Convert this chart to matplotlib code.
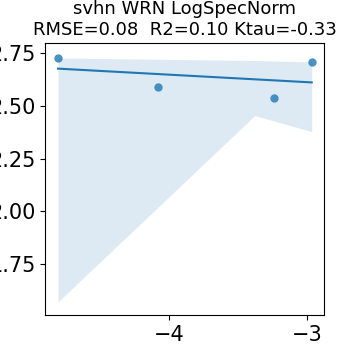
import numpy as np
import matplotlib
matplotlib.use("Agg")
import matplotlib.pyplot as plt

# data
log_spec_norm = [-4.807, -4.078, -3.237, -2.966]
test_acc = [2.726, 2.589, 2.537, 2.707]

# bootstrap confidence band edges
band_x = [-4.807, -3.379, -2.966]
band_upper = [2.727, 2.715, 2.708]
band_lower = [1.571, 2.454, 2.378]

title = "svhn WRN LogSpecNorm\nRMSE=0.08  R2=0.10 Ktau=-0.33"

fig = plt.figure(figsize=(3.6, 3.6), dpi=100)
ax = fig.add_axes([0.126, 0.124, 0.775, 0.756])

ax.fill_between(band_x, band_lower, band_upper, color="C0", alpha=0.15, linewidth=0)

slope, intercept = np.polyfit(log_spec_norm, test_acc, 1)
xs = np.linspace(min(log_spec_norm), max(log_spec_norm), 50)
ax.plot(xs, slope * xs + intercept, color="C0", linewidth=1.5)
ax.scatter(log_spec_norm, test_acc, color="C0", s=36, alpha=0.8, linewidths=0)

ax.set_xlim(-4.899, -2.874)
ax.set_ylim(1.507, 2.797)
ax.set_xticks([-4, -3])
ax.set_yticks([1.75, 2.00, 2.25, 2.50, 2.75])
ax.tick_params(labelsize=15)
ax.set_title(title, fontsize=13)

fig.savefig("out.png", dpi=100)
